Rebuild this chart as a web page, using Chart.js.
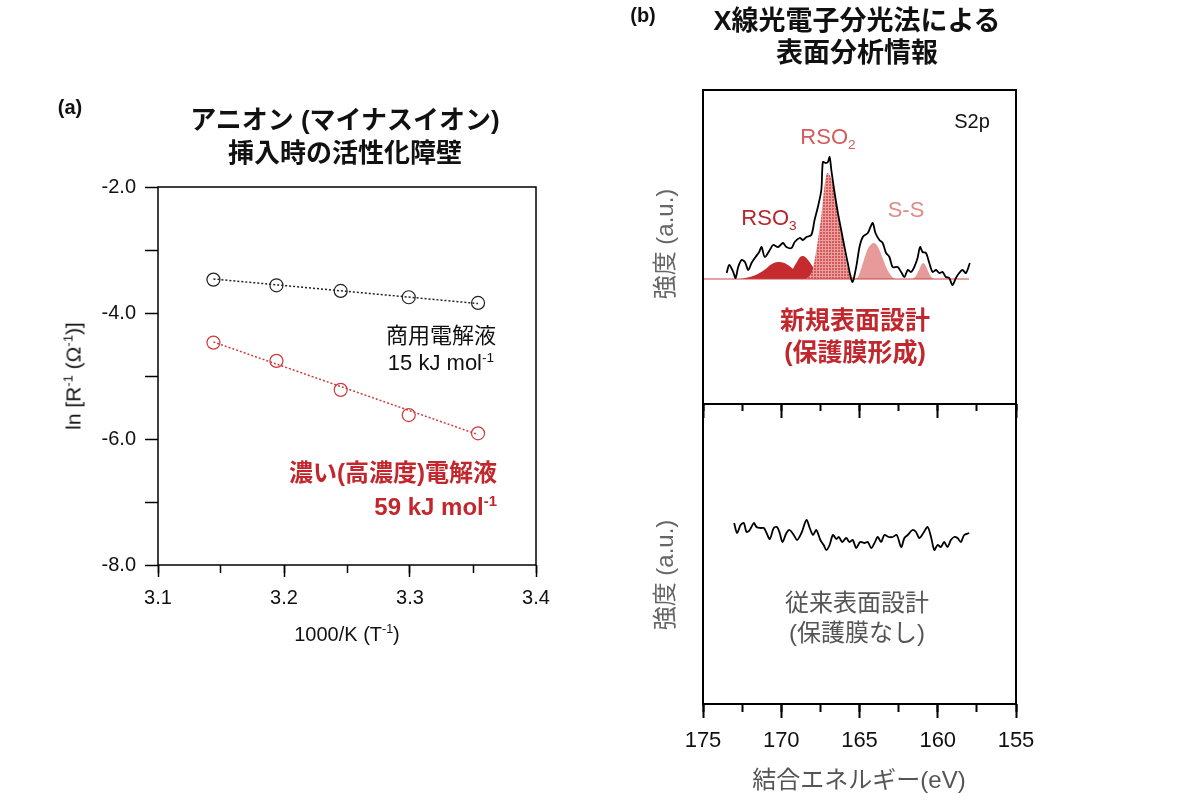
<!DOCTYPE html>
<html lang="ja">
<head>
<meta charset="UTF-8">
<title>活性化障壁とXPS表面分析</title>
<script src="https://cdn.jsdelivr.net/npm/chart.js@4"></script>
<style>
  body { margin: 0; width: 1200px; height: 800px; position: relative; overflow: hidden; background: #fff;
         font-family: "Liberation Sans", "Noto Sans CJK JP", sans-serif; color: #111; }
  canvas { position: absolute; }
  .t { position: absolute; white-space: nowrap; line-height: 1; transform: translate(-50%, -50%); z-index: 5; }
  .r { transform: translate(-100%, -50%); }
  .v { transform: translate(-50%, -50%) rotate(-90deg); }
  .b { font-weight: bold; }
  sup, sub { font-size: 0.62em; line-height: 0; }
</style>
</head>
<body>
<canvas id="chartA" width="600" height="800" style="left:0;top:0"></canvas>
<canvas id="chartTop" width="600" height="430" style="left:600px;top:0"></canvas>
<canvas id="chartBottom" width="600" height="420" style="left:600px;top:380px"></canvas>

<!-- (a) texts -->
<div class="t b" style="left:70px;top:107px;font-size:20px">(a)</div>
<div class="t b" style="left:345px;top:120px;font-size:26px">アニオン (マイナスイオン)</div>
<div class="t b" style="left:345px;top:153px;font-size:26px">挿入時の活性化障壁</div>
<div class="t" style="left:441px;top:336px;font-size:22px">商用電解液</div>
<div class="t" style="left:441px;top:363px;font-size:22px">15 kJ mol<sup>-1</sup></div>
<div class="t r b" style="left:497px;top:473px;font-size:24px;color:#c1272d">濃い(高濃度)電解液</div>
<div class="t r b" style="left:497px;top:507px;font-size:24px;color:#c1272d">59 kJ mol<sup>-1</sup></div>
<div class="t" style="left:347px;top:634px;font-size:20px">1000/K (T<sup>-1</sup>)</div>
<div class="t v" style="left:73px;top:376px;font-size:21px">ln [R<sup>-1</sup> (Ω<sup>-1</sup>)]</div>

<!-- (b) texts -->
<div class="t b" style="left:643px;top:15px;font-size:20px">(b)</div>
<div class="t b" style="left:857px;top:21px;font-size:27px">X線光電子分光法による</div>
<div class="t b" style="left:857px;top:53px;font-size:27px">表面分析情報</div>
<div class="t" style="left:972px;top:121px;font-size:20px">S2p</div>
<div class="t" style="left:828px;top:137px;font-size:22px;color:#d65a5a">RSO<sub>2</sub></div>
<div class="t" style="left:769px;top:218px;font-size:22px;color:#b5282c">RSO<sub>3</sub></div>
<div class="t" style="left:906px;top:210px;font-size:22px;color:#e08a8a">S-S</div>
<div class="t b" style="left:855px;top:320px;font-size:25px;color:#c1272d">新規表面設計</div>
<div class="t b" style="left:855px;top:352px;font-size:25px;color:#c1272d">(保護膜形成)</div>
<div class="t" style="left:857px;top:603px;font-size:24px;color:#555">従来表面設計</div>
<div class="t" style="left:857px;top:633px;font-size:24px;color:#555">(保護膜なし)</div>
<div class="t v" style="left:665px;top:244px;font-size:24px;color:#666">強度 (a.u.)</div>
<div class="t v" style="left:665px;top:575px;font-size:24px;color:#666">強度 (a.u.)</div>
<div class="t" style="left:859px;top:780px;font-size:24px;color:#555">結合エネルギー(eV)</div>

<script>
// ---- (a) Arrhenius plot ----
const invT = [3.144, 3.194, 3.245, 3.299, 3.354];
const lnRCommercial = [-3.47, -3.56, -3.65, -3.75, -3.84];
const lnRConc = [-4.47, -4.76, -5.22, -5.62, -5.91];
const fitX = [3.144, 3.354];
const fitCommercial = [-3.46, -3.85];
const fitConc = [-4.46, -5.93];

// ---- (b) XPS S2p, new surface (top) ----
const eTop = [173.49, 173.32, 173.07, 172.92, 172.75, 172.54, 172.32, 172.11, 171.90, 171.69,
  171.41, 171.26, 171.05, 170.73, 170.52, 170.20, 169.89, 169.67, 169.35, 169.14,
  168.82, 168.61, 168.39, 168.08, 167.87, 167.66, 167.44, 167.34, 167.17, 167.02,
  166.91, 166.80, 166.59, 166.38, 166.17, 165.96, 165.75, 165.46, 165.21, 165.00,
  164.79, 164.47, 164.30, 164.15, 163.98, 163.73, 163.52, 163.30, 163.09, 162.88,
  162.56, 162.34, 162.13, 161.92, 161.71, 161.50, 161.29, 161.13, 160.97, 160.75,
  160.54, 160.33, 160.11, 159.90, 159.69, 159.48, 159.27, 159.06, 158.84, 158.63,
  158.42, 158.20, 157.95];
const iTop = [6, 14, 7, 1, 12, 19, 17, 9, 16, 21,
  27, 32, 22, 29, 34, 32, 36, 32, 31, 37,
  41, 39, 42, 44, 59, 72, 89, 117, 116, 117,
  122, 109, 86, 66, 49, 32, 16, -3, 12, 32,
  42, 46, 52, 56, 46, 39, 36, 26, 22, 12,
  12, 7, 2, 9, 7, 12, 21, 32, 27, 26,
  16, 7, 9, 6, 7, 2, 1, -6, 1, 6,
  9, 6, 16];
const baseE = [175, 158];
const baseI = [0, 0];

// fitted components
const rso3aE = [172.6, 172.0, 171.5, 171.0, 170.6, 170.2, 169.8, 169.4, 169.0, 168.5, 168.0, 167.5];
const rso3aI = [0, 2, 5, 10, 15, 17, 16, 12, 7, 3, 1, 0];
const rso3bE = [170.0, 169.6, 169.3, 169.0, 168.8, 168.6, 168.4, 168.1, 167.8, 167.5, 167.1, 166.8];
const rso3bI = [0, 3, 9, 17, 22, 23, 21, 15, 8, 3, 0.5, 0];
const rso2E = [168.5, 168.2, 168.0, 167.8, 167.6, 167.45, 167.3, 167.15, 167.05, 166.9, 166.7,
  166.5, 166.3, 166.15, 166.0, 165.85, 165.7, 165.5, 165.3];
const rso2I = [0, 3, 9, 25, 45, 62, 85, 102, 106, 104, 94, 78, 60, 48, 32, 18, 9, 3, 0];
const ssE = [165.3, 165.1, 164.9, 164.7, 164.5, 164.3, 164.1, 163.9, 163.7, 163.5, 163.3, 163.1, 162.9, 162.7];
const ssI = [0, 2, 10, 20, 29, 34, 36, 34, 28, 20, 12, 6, 2, 0];
const ss2E = [161.6, 161.4, 161.2, 161.05, 160.94, 160.8, 160.65, 160.5, 160.35, 160.2];
const ss2I = [0, 3, 9, 14, 16, 14, 9, 4, 1, 0];

// ---- (b) XPS S2p, conventional surface (bottom) ----
const eBottom = [173.01, 172.82, 172.60, 172.39, 172.22, 172.01, 171.75, 171.58, 171.32, 171.11,
  170.94, 170.73, 170.48, 170.27, 170.10, 169.92, 169.67, 169.46, 169.20, 168.99,
  168.71, 168.39, 168.18, 167.97, 167.76, 167.50, 167.29, 167.12, 166.91, 166.70,
  166.48, 166.32, 166.10, 165.85, 165.64, 165.43, 165.21, 164.96, 164.68, 164.47,
  164.25, 164.04, 163.83, 163.62, 163.41, 163.13, 162.88, 162.62, 162.34, 162.13,
  161.92, 161.61, 161.39, 161.18, 160.92, 160.65, 160.43, 160.22, 160.01, 159.80,
  159.59, 159.38, 159.16, 158.95, 158.74, 158.52, 158.31, 157.99];
const iBottom = [181, 171, 179, 181, 172, 174, 181, 177, 176, 176,
  171, 165, 176, 177, 171, 162, 171, 174, 169, 164,
  171, 184, 176, 169, 174, 164, 159, 154, 159, 169,
  165, 167, 162, 166, 162, 164, 156, 162, 161, 162,
  156, 161, 167, 162, 169, 167, 167, 169, 157, 166,
  169, 174, 172, 166, 171, 177, 167, 154, 159, 157,
  162, 157, 164, 167, 166, 162, 169, 171];

const zip = (xs, ys) => xs.map((x, i) => ({ x: x, y: ys[i] }));

// box frame around the plot area
const framePlugin = {
  id: 'frame',
  afterDatasetsDraw(chart, args, opts) {
    const { ctx, chartArea: a } = chart;
    ctx.save();
    ctx.strokeStyle = '#000';
    ctx.lineWidth = opts.width;
    ctx.strokeRect(a.left, a.top, a.right - a.left, a.bottom - a.top);
    ctx.restore();
  }
};

// bottom axes: one for major ticks (+labels), one for short minor ticks
function xAxes(min, max, major, minor, opts) {
  return {
    x: {
      type: 'linear', position: 'bottom', min: min, max: max, reverse: !!opts.reverse, weight: 1,
      ticks: { display: opts.labels, stepSize: major, padding: opts.pad, color: '#111',
               font: { size: opts.fontSize, family: 'Liberation Sans' },
               callback: opts.fmt },
      grid: { drawOnChartArea: false, tickLength: opts.majorLen, tickWidth: opts.lw, tickColor: '#000' },
      border: { display: false },
      afterFit: s => { s.height = opts.height; }
    },
    xMinor: {
      type: 'linear', position: 'bottom', min: min, max: max, reverse: !!opts.reverse, weight: 0,
      ticks: { display: false, stepSize: minor },
      grid: { drawOnChartArea: false, tickLength: opts.minorLen, tickWidth: opts.lw, tickColor: '#000' },
      border: { display: false },
      afterFit: s => { s.height = 0; }
    }
  };
}

Chart.defaults.animation = false;
Chart.defaults.plugins.legend.display = false;
Chart.defaults.plugins.tooltip.enabled = false;
Chart.defaults.responsive = false;

// ---------- chart (a) ----------
const axesA = xAxes(3.1, 3.4, 0.1, 0.05, {
  labels: true, pad: 9, fontSize: 20, majorLen: 12, minorLen: 8, lw: 1.5, height: 235,
  fmt: v => v.toFixed(1)
});
axesA.y = {
  type: 'linear', min: -8, max: -2,
  ticks: { stepSize: 1, padding: 9, color: '#111', font: { size: 20, family: 'Liberation Sans' },
           callback: v => (v % 2 === 0 ? v.toFixed(1) : '') },
  grid: { drawOnChartArea: false, tickLength: 13, tickWidth: 1.5, tickColor: '#000' },
  border: { display: false },
  afterFit: s => { s.width = 158; }
};

new Chart(document.getElementById('chartA'), {
  type: 'scatter',
  data: {
    datasets: [
      { data: zip(invT, lnRCommercial), pointRadius: 6.5, pointBorderWidth: 1.2,
        borderColor: '#222', backgroundColor: 'rgba(0,0,0,0)' },
      { data: zip(invT, lnRConc), pointRadius: 6.5, pointBorderWidth: 1.2,
        borderColor: '#cc3a3d', backgroundColor: 'rgba(0,0,0,0)' },
      { type: 'line', data: zip(fitX, fitCommercial), pointRadius: 0, borderColor: '#222',
        borderWidth: 1.5, borderDash: [2, 2] },
      { type: 'line', data: zip(fitX, fitConc), pointRadius: 0, borderColor: '#cc3a3d',
        borderWidth: 1.5, borderDash: [2, 2] }
    ]
  },
  options: {
    layout: { padding: { left: 0, right: 64, top: 187, bottom: 0 } },
    scales: axesA,
    plugins: { frame: { width: 1.5 } }
  },
  plugins: [framePlugin]
});

// ---------- chart (b) top ----------
const hatch = document.createElement('canvas');
hatch.width = 3; hatch.height = 3;
const hctx = hatch.getContext('2d');
hctx.fillStyle = '#d65a5a';
hctx.fillRect(0, 0, 3, 3);
hctx.fillStyle = '#eaa0a0';
hctx.fillRect(0, 0, 3, 1);
hctx.fillRect(0, 0, 1, 3);
const hatchFill = hctx.createPattern(hatch, 'repeat');

const compStyle = { pointRadius: 0, borderWidth: 0, fill: 'origin', cubicInterpolationMode: 'monotone' };

const axesTop = xAxes(155, 175, 5, 2.5, {
  reverse: true, labels: false, pad: 10, fontSize: 22, majorLen: 14, minorLen: 7, lw: 2, height: 26
});
axesTop.y = { type: 'linear', display: false, min: -125, max: 189 };

new Chart(document.getElementById('chartTop'), {
  type: 'line',
  data: {
    datasets: [
      { data: zip(eTop, iTop), pointRadius: 0, borderColor: '#000', borderWidth: 1.8, tension: 0.3 },
      { data: zip(baseE, baseI), pointRadius: 0, borderColor: '#c84444', borderWidth: 1.2 },
      Object.assign({ data: zip(rso2E, rso2I), backgroundColor: hatchFill }, compStyle),
      Object.assign({ data: zip(rso3bE, rso3bI), backgroundColor: '#c42a2e' }, compStyle),
      Object.assign({ data: zip(rso3aE, rso3aI), backgroundColor: '#c42a2e' }, compStyle),
      Object.assign({ data: zip(ssE, ssI), backgroundColor: '#e79a9a' }, compStyle),
      Object.assign({ data: zip(ss2E, ss2I), backgroundColor: '#e79a9a' }, compStyle)
    ]
  },
  options: {
    parsing: false,
    layout: { padding: { left: 103, right: 184, top: 90, bottom: 0 } },
    scales: axesTop,
    plugins: { frame: { width: 2 } }
  },
  plugins: [framePlugin]
});

// ---------- chart (b) bottom ----------
const axesBottom = xAxes(155, 175, 5, 2.5, {
  reverse: true, labels: true, pad: 10, fontSize: 22, majorLen: 14, minorLen: 8, lw: 2, height: 96,
  fmt: v => String(v)
});
axesBottom.y = { type: 'linear', display: false, min: 0, max: 300 };

new Chart(document.getElementById('chartBottom'), {
  type: 'line',
  data: {
    datasets: [
      { data: zip(eBottom, iBottom), pointRadius: 0, borderColor: '#000', borderWidth: 1.8, tension: 0.3 }
    ]
  },
  options: {
    parsing: false,
    layout: { padding: { left: 103, right: 184, top: 24, bottom: 0 } },
    scales: axesBottom,
    plugins: { frame: { width: 2 } }
  },
  plugins: [framePlugin]
});
</script>
</body>
</html>
